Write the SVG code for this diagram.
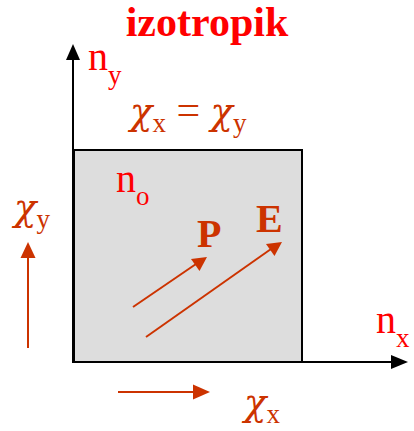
<svg xmlns="http://www.w3.org/2000/svg" width="414" height="431" viewBox="0 0 414 431">
<style>
.t{font-family:"Liberation Serif","Times New Roman",serif}
.red{fill:#FF0000}
.br{fill:#CC3300}
.chi{font-family:"DejaVu Serif","Liberation Serif",serif;font-style:italic}
.ax{stroke:#000;stroke-width:2;fill:none}
.ar{stroke:#CC3300;stroke-width:2;fill:none}
</style>
<rect width="414" height="431" fill="#fff"/>
<text class="t red" x="207" y="36" font-size="42" font-weight="bold" text-anchor="middle">izotropik</text>
<g id="box"><rect x="74" y="150" width="228" height="212" fill="#DDDDDD" stroke="#000" stroke-width="2"/></g>
<g id="connectors">
<line class="ax" x1="73" y1="363" x2="73" y2="58"/>
<path d="M73,44 L80,60 L66,60 Z" fill="#000"/>
<line class="ax" x1="73" y1="362" x2="392" y2="362"/>
<path d="M408,362 L391,355 L391,369 Z" fill="#000"/>
<line class="ar" x1="28" y1="348" x2="28" y2="255"/>
<path d="M28,242 L35.5,258 L20.5,258 Z" fill="#CC3300"/>
<line class="ar" x1="118" y1="392" x2="195" y2="392"/>
<path d="M210,392 L193,384.5 L193,399.5 Z" fill="#CC3300"/>
<line class="ar" x1="133" y1="307" x2="196" y2="264"/>
<path d="M207,257 L199.5,271 L191,259 Z" fill="#CC3300"/>
<line class="ar" x1="146" y1="337" x2="271" y2="249"/>
<path d="M282,242 L274.5,256 L266,244 Z" fill="#CC3300"/>
</g>
<g id="ny"><text class="t red" x="88" y="70" font-size="40">n<tspan font-size="27" dy="14">y</tspan></text></g>
<g id="chieq"><text class="t br" x="130" y="124" font-size="42"><tspan class="chi" font-size="37">χ</tspan><tspan font-size="27" dy="8">x</tspan><tspan dy="-8"> = </tspan><tspan class="chi" font-size="37">χ</tspan><tspan font-size="27" dy="8">y</tspan></text></g>
<g id="no"><text class="t red" x="116" y="192" font-size="40">n<tspan font-size="27" dy="13">o</tspan></text></g>
<g id="chiy"><text class="t br" x="14" y="220" font-size="42"><tspan class="chi" font-size="37">χ</tspan><tspan font-size="27" dy="8">y</tspan></text></g>
<g id="P"><text class="t br" x="197" y="247" font-size="40" font-weight="bold">P</text></g>
<g id="E"><text class="t br" x="256" y="232" font-size="40" font-weight="bold">E</text></g>
<g id="nx"><text class="t red" x="376" y="333" font-size="40">n<tspan font-size="27" dy="14">x</tspan></text></g>
<g id="chix"><text class="t br" x="244" y="415" font-size="42"><tspan class="chi" font-size="37">χ</tspan><tspan font-size="27" dy="8">x</tspan></text></g>
</svg>
